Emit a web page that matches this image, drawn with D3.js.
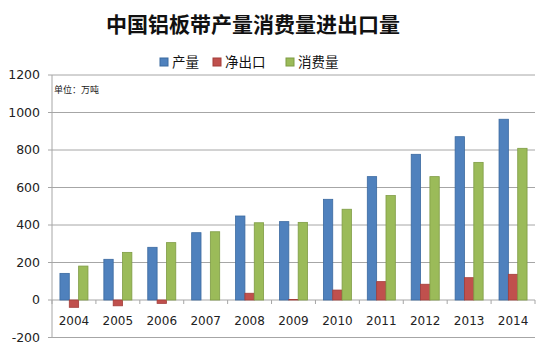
<!DOCTYPE html>
<html>
<head>
<meta charset="utf-8">
<script src="https://cdn.jsdelivr.net/npm/d3@7"></script>
<style>
  body { margin: 0; background: #fff; }
  text { font-family: "Noto Sans CJK SC", "DejaVu Sans", sans-serif; }
</style>
</head>
<body>
<div id="chart"></div>
<script>
// data (unit: 万吨)
const years = ["2004", "2005", "2006", "2007", "2008", "2009", "2010", "2011", "2012", "2013", "2014"];
const production = [142, 217, 281, 359, 448, 418, 537, 658, 777, 871, 964];
const netExport = [-39, -31, -18, 0, 36, 3, 53, 98, 84, 119, 137];
const consumption = [181, 254, 306, 364, 412, 414, 484, 557, 658, 734, 809];
const seriesNames = ["产量", "净出口", "消费量"];
const yTicks = [-200, 0, 200, 400, 600, 800, 1000, 1200];

const width = 550, height = 352;
const colors = ["#4f81bd", "#c0504d", "#9bbb59"];
const strokes = ["#3b6aa0", "#a33c39", "#7f9c45"];

const svg = d3.select("#chart").append("svg")
  .attr("width", width)
  .attr("height", height);

const x0 = d3.scaleBand().domain(years).range([52, 535]).padding(0);
const x1 = d3.scaleBand().domain(seriesNames).range([0, x0.bandwidth()])
  .paddingInner(0).paddingOuter(0.85);
const y = d3.scaleLinear().domain([-200, 1200]).range([337.5, 75]);

// title
svg.append("text")
  .attr("x", 253)
  .attr("y", 32)
  .attr("text-anchor", "middle")
  .style("font-size", "21px")
  .style("font-weight", "bold")
  .style("fill", "#111")
  .text("中国铝板带产量消费量进出口量");

// legend
const legendX = [160, 213, 286];
const legend = svg.append("g");
seriesNames.forEach((name, i) => {
  legend.append("rect")
    .attr("x", legendX[i])
    .attr("y", 58)
    .attr("width", 8)
    .attr("height", 8)
    .attr("fill", colors[i])
    .attr("stroke", strokes[i]);
  legend.append("text")
    .attr("x", legendX[i] + 12)
    .attr("y", 67)
    .style("font-size", "13.5px")
    .style("fill", "#111")
    .text(name);
});

// gridlines
svg.append("g")
  .selectAll("line")
  .data(yTicks)
  .join("line")
  .attr("x1", 48)
  .attr("x2", 535)
  .attr("y1", d => y(d))
  .attr("y2", d => y(d))
  .attr("stroke", "#a6a6a6")
  .attr("stroke-width", 1);

// y axis line
svg.append("line")
  .attr("x1", 52).attr("x2", 52)
  .attr("y1", y(1200)).attr("y2", y(-200))
  .attr("stroke", "#a6a6a6");

// y tick labels
svg.append("g")
  .selectAll("text")
  .data(yTicks)
  .join("text")
  .attr("x", 40)
  .attr("y", d => y(d))
  .attr("dy", "0.35em")
  .attr("text-anchor", "end")
  .style("font-family", "'DejaVu Sans', sans-serif")
  .style("font-size", "12.5px")
  .style("fill", "#222")
  .text(d => d);

// category ticks on the zero line
svg.append("g")
  .selectAll("line")
  .data(years.concat(["end"]))
  .join("line")
  .attr("x1", (d, i) => 52 + i * x0.step())
  .attr("x2", (d, i) => 52 + i * x0.step())
  .attr("y1", y(0))
  .attr("y2", y(0) + 4)
  .attr("stroke", "#a6a6a6");

// bars
const rows = years.map((yr, i) => ({
  year: yr,
  values: [production[i], netExport[i], consumption[i]]
}));

const groups = svg.append("g")
  .selectAll("g")
  .data(rows)
  .join("g")
  .attr("transform", d => `translate(${x0(d.year)},0)`);

groups.selectAll("rect")
  .data(d => d.values.map((v, i) => ({ key: seriesNames[i], value: v, i })))
  .join("rect")
  .attr("x", d => x1(d.key))
  .attr("y", d => y(Math.max(0, d.value)))
  .attr("width", x1.bandwidth())
  .attr("height", d => Math.abs(y(d.value) - y(0)))
  .attr("fill", d => colors[d.i])
  .attr("stroke", d => strokes[d.i])
  .attr("stroke-width", 0.8);

// x labels
svg.append("g")
  .selectAll("text")
  .data(years)
  .join("text")
  .attr("x", d => x0(d) + x0.bandwidth() / 2)
  .attr("y", 325)
  .attr("text-anchor", "middle")
  .style("font-family", "'DejaVu Sans', sans-serif")
  .style("font-size", "12px")
  .style("fill", "#222")
  .text(d => d);

// unit note
svg.append("text")
  .attr("x", 54)
  .attr("y", 93)
  .style("font-size", "9px")
  .style("fill", "#222")
  .text("单位：万吨");
</script>
</body>
</html>
